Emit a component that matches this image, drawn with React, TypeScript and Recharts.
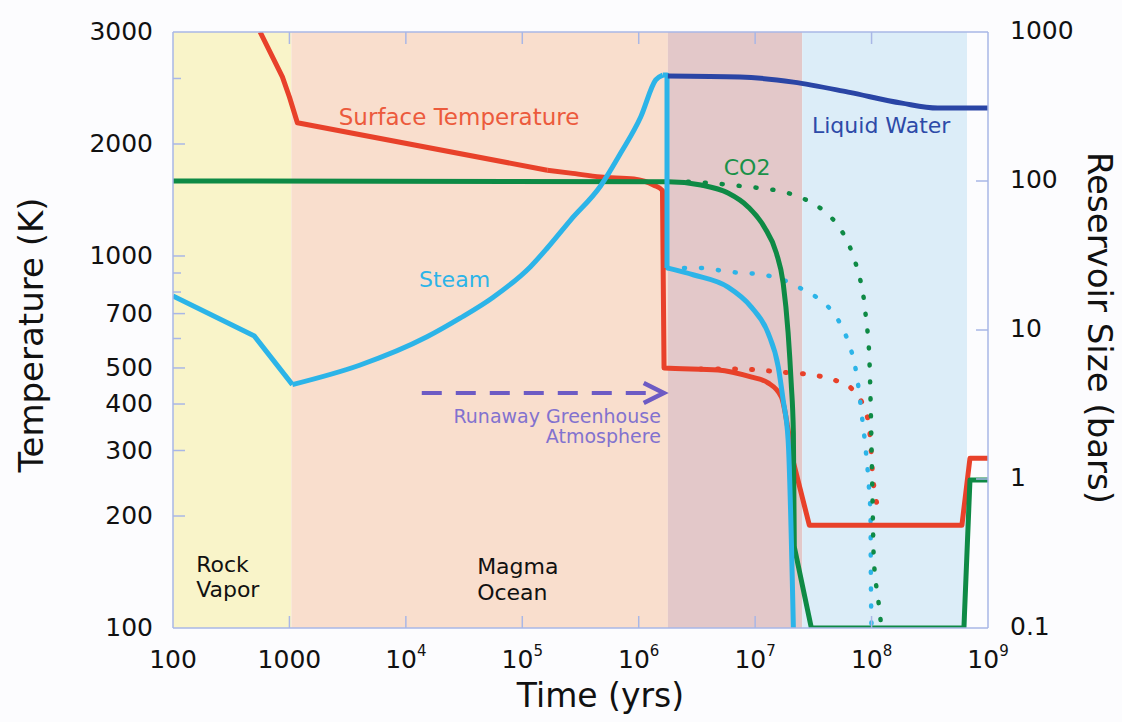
import React from "react";
import {
  LineChart,
  Line,
  XAxis,
  YAxis,
  ReferenceArea,
  ReferenceLine,
  ReferenceDot,
  Label,
} from "recharts";

const FONT = '"DejaVu Sans", Verdana, sans-serif';
const W = 1122;
const H = 722;

// axes
const timeDomain = [100, 1e9];
const timeTicks = [100, 1000, 1e4, 1e5, 1e6, 1e7, 1e8, 1e9];
const timeTickBase = ["100", "1000", "10", "10", "10", "10", "10", "10"];
const timeTickSup = ["", "", "4", "5", "6", "7", "8", "9"];

const tempDomain = [100, 4000];
const tempTicks = [100, 200, 300, 400, 500, 600, 700, 800, 900, 1000, 2000, 3000, 4000];
const tempTickLabels = ["100", "200", "300", "400", "500", "", "700", "", "", "1000", "2000", "", "3000"];

const barDomain = [0.1, 1000];
const barTicks = [0.1, 1, 10, 100, 1000];
const barTickLabels = ["0.1", "1", "10", "100", "1000"];

// evolutionary phases (time, yrs)
const phaseNames = ["Rock Vapor", "Magma Ocean", "Runaway Greenhouse", "Liquid Water"];
const phaseStart = [100, 1040, 1.78e6, 2.54e7];
const phaseEnd = [1040, 1.78e6, 2.54e7, 6.6e8];
const phaseColors = ["#f9f4c9", "#f9decd", "#e3c8c9", "#dcedf8"];

// surface temperature (K)
const surfTime = [560, 870, 1000, 1170, 1.64e5, 2.6e5, 4.7e5, 9.1e5, 1.35e6, 1.6e6, 1.65e6, 4.8e6, 9.2e6, 1.29e7, 1.68e7, 1.89e7, 2.13e7, 2.92e7, 5.97e8, 7.0e8, 1e9];
const surfK = [4000, 3030, 2675, 2280, 1700, 1670, 1630, 1610, 1550, 1500, 500, 494, 473, 456, 418, 351, 279, 189, 189, 286, 286];
const surfAltTime = [3.4e6, 6.6e6, 1.74e7, 3.5e7, 4.8e7, 6.7e7, 8.5e7, 9.4e7, 9.8e7, 1.0e8, 1.02e8, 1.06e8, 1.15e8];
const surfAltK = [497, 497, 487, 476, 464, 441, 395, 356, 318, 286, 260, 233, 210];

// steam reservoir (bars)
const steamTime = [100, 500, 1060, 4000, 15200, 29200, 56300, 1.17e5, 1.64e5, 2.6e5, 4.7e5, 7.0e5, 1.04e6, 1.4e6, 1.61e6, 1.75e6, 1.75e6, 2.98e6, 5.85e6, 9.24e6, 1.29e7, 1.58e7, 1.74e7, 1.92e7, 2.13e7];
const steamBar = [16.9, 9.1, 4.3, 5.8, 9.0, 12.0, 16.6, 26.5, 35.5, 54.7, 92.5, 154, 269, 477, 514, 514, 26.1, 23.4, 19.4, 14.3, 9.55, 5.65, 3.39, 1.83, 0.1];
const steamAltTime = [1.75e6, 3.23e6, 6.2e6, 1.2e7, 1.74e7, 2.35e7, 3.36e7, 4.7e7, 5.74e7, 6.46e7, 7.13e7, 7.57e7, 8.2e7, 8.88e7, 9.42e7, 9.8e7, 9.85e7, 1.0e8];
const steamAltBar = [26.1, 26.1, 24.5, 23.4, 21.7, 19.4, 16.6, 13.0, 10.0, 7.9, 6.0, 4.6, 2.77, 1.61, 0.955, 0.556, 0.256, 0.1];

// CO2 reservoir (bars)
const co2Time = [100, 1.78e6, 3.42e6, 5.85e6, 8.71e6, 1.2e7, 1.52e7, 1.74e7, 1.92e7, 2.04e7, 2.13e7, 2.17e7, 3.04e7, 6.21e8, 7.0e8, 1e9];
const co2Bar = [100, 99, 94, 83, 67, 49, 32.9, 20.7, 9.55, 4.41, 2.04, 0.35, 0.1, 0.1, 0.985, 0.985];
const co2AltTime = [2.64e6, 7.57e6, 2.04e7, 2.86e7, 4.09e7, 5.41e7, 6.46e7, 7.28e7, 8.04e7, 8.54e7, 8.88e7, 9.24e7, 9.62e7, 9.8e7, 1.0e8, 1.02e8, 1.04e8, 1.1e8, 1.15e8, 1.2e8];
const co2AltBar = [99, 92.5, 81.8, 73.5, 61, 47.6, 36.6, 28.2, 21.3, 16.6, 12.8, 9.7, 5.82, 3.39, 1.57, 0.7, 0.32, 0.188, 0.147, 0.11];

// liquid water reservoir (bars)
const waterTime = [1.78e6, 7.4e6, 2.13e7, 6.3e7, 1.82e8, 3.7e8, 1e9];
const waterBar = [507, 499, 461, 395, 333, 309, 309];

type Curve = "linear" | "monotone";
// which stretches of each series are smooth and which have sharp corners
const surfPieces: [number, number, Curve][] = [[0, 4, "linear"], [4, 15, "monotone"], [15, 20, "linear"]];
const steamPieces: [number, number, Curve][] = [[0, 2, "linear"], [2, 14, "monotone"], [14, 16, "linear"], [16, 24, "monotone"]];
const co2Pieces: [number, number, Curve][] = [[0, 11, "monotone"], [11, 15, "linear"]];

const toPoints = (ts: number[], vs: number[]) => ts.map((t, i) => ({ t, v: vs[i] }));
const slice = (ts: number[], vs: number[], a: number, b: number) =>
  toPoints(ts.slice(a, b + 1), vs.slice(a, b + 1));

const FRAME = "#a9b7e6";
const INK = "#111111";
const RED = "#e8412a";
const STEAM = "#2cb4e8";
const GREEN = "#0e8a45";
const WATER = "#2a45a5";
const ARROW = "#6d5bc4";

function BottomTick(props: any) {
  const { x, y, index } = props;
  const edge = index === 0 || index === timeTicks.length - 1;
  return (
    <g>
      {!edge && <line x1={x} y1={y} x2={x} y2={y - 12} stroke={FRAME} strokeWidth={1.5} />}
      <text x={x} y={y + 40} textAnchor="middle" fill={INK} fontSize={25} fontFamily={FONT}>
        {timeTickBase[index]}
        {timeTickSup[index] && (
          <tspan dy={-12} fontSize={15}>
            {timeTickSup[index]}
          </tspan>
        )}
      </text>
    </g>
  );
}

function TopTick(props: any) {
  const { x, y, index } = props;
  if (index === 0 || index === timeTicks.length - 1) return <g />;
  return <line x1={x} y1={y} x2={x} y2={y + 12} stroke={FRAME} strokeWidth={1.5} />;
}

function TempTick(props: any) {
  const { x, y, index } = props;
  const label = tempTickLabels[index];
  const top = index === tempTicks.length - 1;
  const len = label ? 12 : 8;
  return (
    <g>
      {!top && index > 0 && <line x1={x} y1={y} x2={x + len} y2={y} stroke={FRAME} strokeWidth={1.5} />}
      {label && (
        <text x={x - 20} y={y + 8} textAnchor="end" fill={INK} fontSize={25} fontFamily={FONT}>
          {label}
        </text>
      )}
    </g>
  );
}

function BarTick(props: any) {
  const { x, y, index } = props;
  const edge = index === 0 || index === barTicks.length - 1;
  return (
    <g>
      {!edge && <line x1={x} y1={y} x2={x - 12} y2={y} stroke={FRAME} strokeWidth={1.5} />}
      <text x={x + 22} y={y + 7} textAnchor="start" fill={INK} fontSize={25} fontFamily={FONT}>
        {barTickLabels[index]}
      </text>
    </g>
  );
}

function TimeTitle({ viewBox }: any) {
  return (
    <text x={viewBox.x + viewBox.width / 2 + 20} y={viewBox.y + 79} textAnchor="middle" fill={INK} fontSize={33} fontFamily={FONT}>
      Time (yrs)
    </text>
  );
}

function TempTitle({ viewBox }: any) {
  const cx = viewBox.x + 43;
  const cy = viewBox.y + viewBox.height / 2 + 5;
  return (
    <text x={cx} y={cy} transform={`rotate(-90 ${cx} ${cy})`} textAnchor="middle" fill={INK} fontSize={34} fontFamily={FONT}>
      Temperature (K)
    </text>
  );
}

function BarTitle({ viewBox }: any) {
  const cx = viewBox.x + 100;
  const cy = viewBox.y + viewBox.height / 2 - 2;
  return (
    <text x={cx} y={cy} transform={`rotate(90 ${cx} ${cy})`} textAnchor="middle" fill={INK} fontSize={34} fontFamily={FONT}>
      Reservoir Size (bars)
    </text>
  );
}

function ArrowShape(p: any) {
  const { x1, y1, x2, y2 } = p;
  return (
    <g>
      <line x1={x1} y1={y1} x2={x2 - 4} y2={y2} stroke={ARROW} strokeWidth={4} strokeDasharray="20 14" />
      <path d={`M${x2 - 20},${y2 - 10} L${x2},${y2} L${x2 - 20},${y2 + 10}`} fill="none" stroke={ARROW} strokeWidth={4.5} />
    </g>
  );
}

const textShape = (lines: string[], color: string, size: number, anchor: string, gap: number) => (p: any) => (
  <text x={p.cx} y={p.cy} fill={color} fontSize={size} fontFamily={FONT} textAnchor={anchor}>
    {lines.map((l, i) => (
      <tspan key={i} x={p.cx} dy={i === 0 ? 0 : gap}>
        {l}
      </tspan>
    ))}
  </text>
);

// annotation anchors in (yrs, K)
const notes = [
  { lines: ["Surface Temperature"], t: 28650, k: 2250, color: "#ec5a3c", size: 23, anchor: "middle", gap: 0 },
  { lines: ["Steam"], t: 26200, k: 825, color: STEAM, size: 22, anchor: "middle", gap: 0 },
  { lines: ["CO2"], t: 8.53e6, k: 1650, color: "#1a9148", size: 22, anchor: "middle", gap: 0 },
  { lines: ["Liquid Water"], t: 1.21e8, k: 2140, color: "#2d4aa8", size: 22, anchor: "middle", gap: 0 },
  { lines: ["Rock", "Vapor"], t: 158, k: 141.5, color: INK, size: 22, anchor: "start", gap: 25 },
  { lines: ["Magma", "Ocean"], t: 40950, k: 139.7, color: INK, size: 22, anchor: "start", gap: 26 },
  { lines: ["Runaway Greenhouse", "Atmosphere"], t: 1.55e6, k: 356, color: "#8272cf", size: 19, anchor: "end", gap: 20 },
];

const lineCommon = {
  xAxisId: "time",
  dataKey: "v",
  dot: false,
  activeDot: false,
  isAnimationActive: false,
  strokeLinejoin: "round" as const,
};

export default function App() {
  return (
    <div style={{ position: "absolute", left: 0, top: 0, width: W, height: H, background: "#fcfcfe" }}>
      <LineChart width={W} height={H} margin={{ top: 22, right: 0, bottom: 0, left: 0 }}>
        <XAxis
          xAxisId="time"
          dataKey="t"
          type="number"
          scale="log"
          domain={timeDomain}
          ticks={timeTicks}
          allowDataOverflow
          interval={0}
          height={94}
          tickSize={0}
          tickMargin={0}
          tickLine={false}
          axisLine={{ stroke: FRAME, strokeWidth: 1.5 }}
          tick={(p: any) => <BottomTick {...p} />}
        >
          <Label content={TimeTitle} />
        </XAxis>
        <XAxis
          xAxisId="top"
          orientation="top"
          dataKey="t"
          type="number"
          scale="log"
          domain={timeDomain}
          ticks={timeTicks}
          allowDataOverflow
          interval={0}
          height={10}
          tickSize={0}
          tickMargin={0}
          tickLine={false}
          axisLine={{ stroke: FRAME, strokeWidth: 1.5 }}
          tick={(p: any) => <TopTick {...p} />}
        />
        <YAxis
          yAxisId="temp"
          type="number"
          scale="log"
          domain={tempDomain}
          ticks={tempTicks}
          allowDataOverflow
          interval={0}
          width={173}
          tickSize={0}
          tickMargin={0}
          tickLine={false}
          axisLine={{ stroke: FRAME, strokeWidth: 1.5 }}
          tick={(p: any) => <TempTick {...p} />}
        >
          <Label content={TempTitle} />
        </YAxis>
        <YAxis
          yAxisId="bars"
          orientation="right"
          type="number"
          scale="log"
          domain={barDomain}
          ticks={barTicks}
          allowDataOverflow
          interval={0}
          width={134}
          tickSize={0}
          tickMargin={0}
          tickLine={false}
          axisLine={{ stroke: FRAME, strokeWidth: 1.5 }}
          tick={(p: any) => <BarTick {...p} />}
        >
          <Label content={BarTitle} />
        </YAxis>

        {phaseNames.map((name, i) => (
          <ReferenceArea
            key={name}
            xAxisId="time"
            yAxisId="temp"
            x1={phaseStart[i]}
            x2={phaseEnd[i]}
            fill={phaseColors[i]}
            fillOpacity={1}
            stroke="none"
          />
        ))}

        <Line {...lineCommon} type="monotone" yAxisId="temp" data={toPoints(surfAltTime, surfAltK)} stroke={RED} strokeWidth={5} strokeDasharray="1 16" strokeLinecap="round" />
        <Line {...lineCommon} type="monotone" yAxisId="bars" data={toPoints(steamAltTime, steamAltBar)} stroke={STEAM} strokeWidth={4.5} strokeDasharray="1 16" strokeLinecap="round" />
        <Line {...lineCommon} type="monotone" yAxisId="bars" data={toPoints(co2AltTime, co2AltBar)} stroke={GREEN} strokeWidth={4.5} strokeDasharray="1 16" strokeLinecap="round" />

        {surfPieces.map(([a, b, curve]) => (
          <Line key={`s${a}`} {...lineCommon} type={curve} yAxisId="temp" data={slice(surfTime, surfK, a, b)} stroke={RED} strokeWidth={5} />
        ))}
        {co2Pieces.map(([a, b, curve]) => (
          <Line key={`c${a}`} {...lineCommon} type={curve} yAxisId="bars" data={slice(co2Time, co2Bar, a, b)} stroke={GREEN} strokeWidth={5} />
        ))}
        {steamPieces.map(([a, b, curve]) => (
          <Line key={`w${a}`} {...lineCommon} type={curve} yAxisId="bars" data={slice(steamTime, steamBar, a, b)} stroke={STEAM} strokeWidth={5} />
        ))}
        <Line {...lineCommon} type="monotone" yAxisId="bars" data={toPoints(waterTime, waterBar)} stroke={WATER} strokeWidth={5} />

        <ReferenceLine
          xAxisId="time"
          yAxisId="temp"
          segment={[{ x: 13700, y: 428 }, { x: 1.64e6, y: 428 }]}
          shape={ArrowShape}
          ifOverflow="visible"
        />

        {notes.map((n) => (
          <ReferenceDot
            key={n.lines.join(" ")}
            xAxisId="time"
            yAxisId="temp"
            x={n.t}
            y={n.k}
            r={0}
            ifOverflow="visible"
            shape={textShape(n.lines, n.color, n.size, n.anchor, n.gap)}
          />
        ))}
      </LineChart>
    </div>
  );
}
